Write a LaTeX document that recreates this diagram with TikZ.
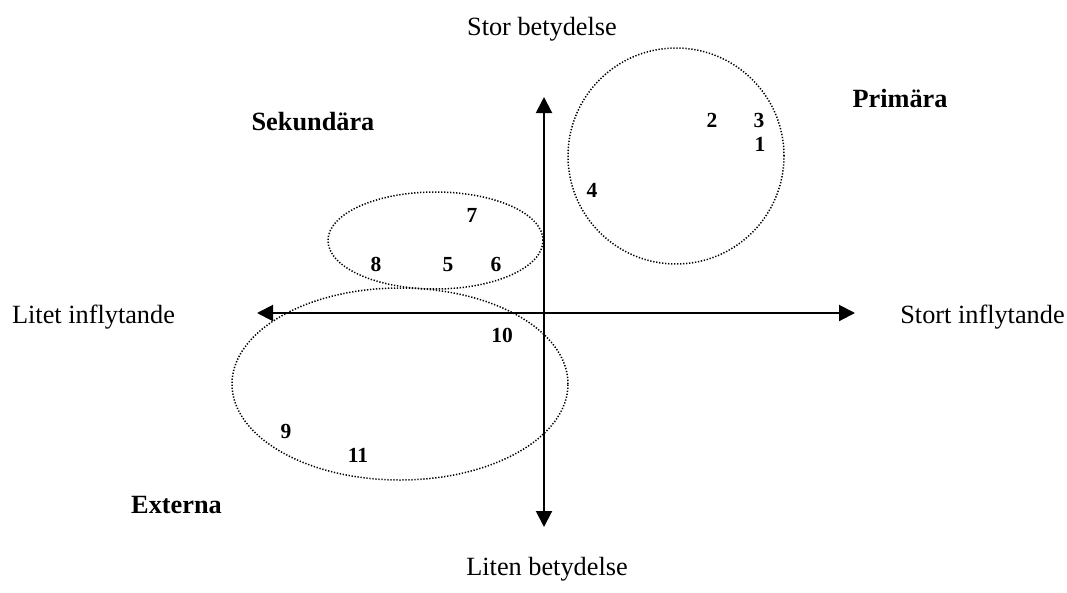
\documentclass[tikz,border=0pt]{standalone}
\usepackage{fontspec}
\setmainfont{Liberation Serif}
\usetikzlibrary{arrows.meta}
\begin{document}
\begin{tikzpicture}[x=1pt,y=-1pt,
  axis/.style={line width=2pt,-{Triangle[length=16pt,width=16pt]}},
  group/.style={line width=1.5pt,dash pattern=on 1.3pt off 1.7pt},
  lab/.style={anchor=base,inner sep=0pt,font=\fontsize{26.3}{30}\selectfont},
  grp/.style={anchor=base,inner sep=0pt,font=\fontsize{26.3}{30}\selectfont\bfseries},
  num/.style={anchor=base,inner sep=0pt,font=\fontsize{21.5}{24}\selectfont\bfseries}]
\useasboundingbox (0,0) rectangle (1067,592);
% axes
\coordinate (o) at (544,313);
\coordinate (top) at (544,97);
\coordinate (bot) at (544,527);
\coordinate (left) at (257,313);
\coordinate (right) at (855,313);
\draw[axis] (o) -- (top);
\draw[axis] (o) -- (bot);
\draw[axis] (o) -- (left);
\draw[axis] (o) -- (right);
% groups
\draw[group] (676,156) circle[radius=108pt];
\draw[group] (435.5,240.5) ellipse[x radius=107.5pt,y radius=48.5pt];
\draw[group] (400,384) ellipse[x radius=168pt,y radius=96pt];
% axis labels
\node[lab] (stor) at (542,35) {Stor betydelse};
\node[lab] (liten) at (547,575) {Liten betydelse};
\node[lab] (litet) at (93.5,323) {Litet inflytande};
\node[lab] (stort) at (982.5,323) {Stort inflytande};
% group labels
\node[grp] (prim) at (900,107) {Primära};
\node[grp] (sek) at (313,130) {Sekundära};
\node[grp] (ext) at (176.5,513) {Externa};
% numbers
\node[num] (n1) at (760,151) {1};
\node[num] (n2) at (712,127) {2};
\node[num] (n3) at (759,127) {3};
\node[num] (n4) at (592,197) {4};
\node[num] (n5) at (448,271) {5};
\node[num] (n6) at (496,271) {6};
\node[num] (n7) at (472,222) {7};
\node[num] (n8) at (376,271) {8};
\node[num] (n9) at (286,438) {9};
\node[num] (n10) at (502,342) {10};
\node[num] (n11) at (358,462) {11};
\end{tikzpicture}
\end{document}
